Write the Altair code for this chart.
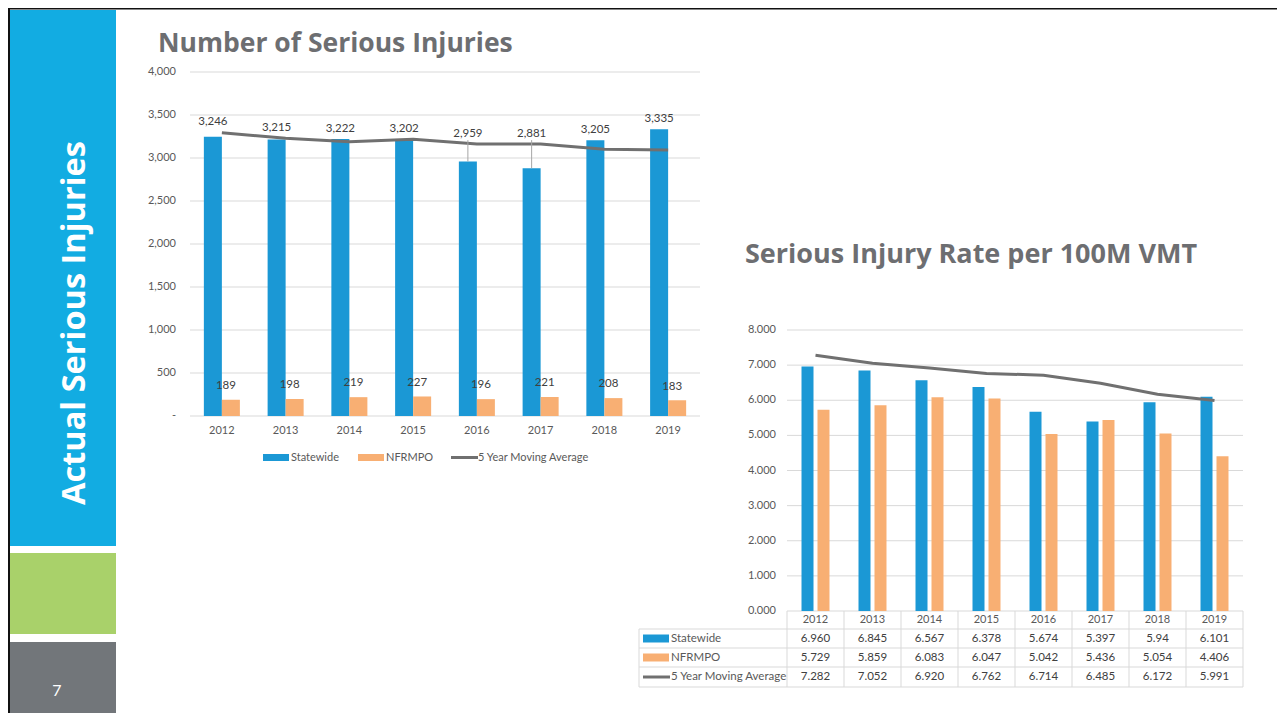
import altair as alt
import pandas as pd

# ---------------- data ----------------
years = ["2012", "2013", "2014", "2015", "2016", "2017", "2018", "2019"]
series_names = ["Statewide", "NFRMPO"]

sw_counts = [3246, 3215, 3222, 3202, 2959, 2881, 3205, 3335]
nf_counts = [189, 198, 219, 227, 196, 221, 208, 183]
avg_counts = [3294, 3229, 3190, 3217, 3163, 3163, 3101, 3093]

sw_rates = ["6.960", "6.845", "6.567", "6.378", "5.674", "5.397", "5.94", "6.101"]
nf_rates = ["5.729", "5.859", "6.083", "6.047", "5.042", "5.436", "5.054", "4.406"]
avg_rates = ["7.282", "7.052", "6.920", "6.762", "6.714", "6.485", "6.172", "5.991"]

left_ticks = [0, 500, 1000, 1500, 2000, 2500, 3000, 3500, 4000]
left_tick_labels = ["-", "500", "1,000", "1,500", "2,000", "2,500", "3,000", "3,500", "4,000"]
right_ticks = [0, 1, 2, 3, 4, 5, 6, 7, 8]
right_tick_labels = ["0.000", "1.000", "2.000", "3.000", "4.000", "5.000", "6.000", "7.000", "8.000"]

# ---------------- style ----------------
FONT = "Lato"
TFONT = "Open Sans"
BLUE = "#1B98D5"
ORANGE = "#F8AF73"
LINE = "#707070"
GRID = "#D9D9D9"
AXIS_TXT = "#595959"
VAL_TXT = "#404040"
TITLE = "#6D6E71"

dummy = pd.DataFrame({"d": [0]})


def rect(x1, x2, y1, y2, color):
    return alt.Chart(dummy).mark_rect(color=color).encode(
        x=alt.value(x1), x2=alt.value(x2), y=alt.value(y1), y2=alt.value(y2))


def hline(x1, x2, y, color=GRID, w=1):
    return alt.Chart(dummy).mark_rule(color=color, strokeWidth=w).encode(
        x=alt.value(x1), x2=alt.value(x2), y=alt.value(y))


def vline(x, y1, y2, color=GRID, w=1):
    return alt.Chart(dummy).mark_rule(color=color, strokeWidth=w).encode(
        x=alt.value(x), y=alt.value(y1), y2=alt.value(y2))


def label(txt, x, y, size=11, color=AXIS_TXT, align="left", bold=False, angle=0,
          baseline="middle", font=FONT):
    kw = dict(text=txt, font=font, fontSize=size, color=color, align=align, baseline=baseline)
    if bold:
        kw["fontWeight"] = "bold"
    if angle:
        kw["angle"] = angle
    return alt.Chart(dummy).mark_text(**kw).encode(x=alt.value(x), y=alt.value(y))


# ---------------- sidebar ----------------
sidebar = [
    rect(0, 2, 0, 705, "#111111"),
    rect(0, 1269, 0, 1.5, "#111111"),
    rect(2, 108, 2, 538, "#12ACE2"),
    rect(2, 108, 545, 626, "#A9D16A"),
    rect(2, 108, 634, 705, "#72767A"),
    label("Actual Serious Injuries", 67, 315, size=32.5, color="white", align="center", bold=True,
          angle=270, font=TFONT),
    label("7", 49, 683, size=16, color="white", align="center"),
]

# ---------------- left chart ----------------
left_long = pd.DataFrame({
    "year": years * 2,
    "series": ["Statewide"] * 8 + ["NFRMPO"] * 8,
    "value": sw_counts + nf_counts,
    "avg": avg_counts + avg_counts,
})
left_ticks_df = pd.DataFrame({"v": left_ticks, "t": left_tick_labels})

LX = alt.Scale(type="band", domain=years, range=[182, 692], paddingInner=0.435, paddingOuter=0.2175)
LY = alt.Scale(domain=[0, 4000], range=[408, 64], zero=True, nice=False)
COLOR = alt.Scale(domain=series_names, range=[BLUE, ORANGE])

lbase = alt.Chart(left_long)
left_layers = [
    label("Number of Serious Injuries", 150, 44, size=26.5, color=TITLE, bold=True,
          baseline="alphabetic", font=TFONT),
    alt.Chart(left_ticks_df).mark_rule(color=GRID).encode(
        y=alt.Y("v:Q", scale=LY, axis=None), x=alt.value(182), x2=alt.value(692)),
    alt.Chart(left_ticks_df).mark_text(font=FONT, fontSize=11, color=AXIS_TXT, align="right", baseline="middle").encode(
        y=alt.Y("v:Q", scale=LY, axis=None), x=alt.value(168), text="t:N"),
    lbase.mark_bar().encode(
        x=alt.X("year:N", scale=LX, axis=None),
        xOffset=alt.XOffset("series:N", scale=alt.Scale(domain=series_names, paddingInner=0, paddingOuter=0)),
        y=alt.Y("value:Q", scale=LY, axis=None),
        y2=alt.datum(0),
        color=alt.Color("series:N", scale=COLOR, legend=None)),
    lbase.transform_filter("datum.series == 'Statewide'").mark_line(color=LINE, strokeWidth=3).encode(
        x=alt.X("year:N", scale=LX, axis=None, bandPosition=0.5),
        y=alt.Y("avg:Q", scale=LY, axis=None)),
    lbase.transform_filter("datum.series == 'Statewide' && datum.avg - datum.value > 150")
    .transform_calculate(top="max(datum.value, datum.avg) + 45")
    .mark_rule(color="#A6A6A6", strokeWidth=1, xOffset=-9).encode(
        x=alt.X("year:N", scale=LX, axis=None, bandPosition=0.5),
        y=alt.Y("value:Q", scale=LY, axis=None),
        y2="top:Q"),
    lbase.transform_filter("datum.series == 'Statewide'")
    .transform_calculate(ly="max(datum.value, datum.avg) + 120")
    .mark_text(font=FONT, fontSize=11.5, color=VAL_TXT, baseline="middle", dx=-9).encode(
        x=alt.X("year:N", scale=LX, axis=None, bandPosition=0.5),
        y=alt.Y("ly:Q", scale=LY, axis=None),
        text=alt.Text("value:Q", format=",")),
    lbase.transform_filter("datum.series == 'NFRMPO'")
    .transform_calculate(ly="datum.value + 160")
    .mark_text(font=FONT, fontSize=11.5, color=VAL_TXT, baseline="middle", dx=4).encode(
        x=alt.X("year:N", scale=LX, axis=None, bandPosition=0.5),
        y=alt.Y("ly:Q", scale=LY, axis=None),
        text=alt.Text("value:Q")),
    lbase.transform_filter("datum.series == 'Statewide'")
    .mark_text(font=FONT, fontSize=11, color=AXIS_TXT, baseline="middle").encode(
        x=alt.X("year:N", scale=LX, axis=None, bandPosition=0.5),
        y=alt.value(423), text="year:N"),
    # legend
    rect(255, 281, 446, 453, BLUE),
    label("Statewide", 283, 449.5),
    rect(350, 376, 446, 453, ORANGE),
    label("NFRMPO", 378, 449.5),
    hline(443, 470, 449.5, LINE, 3),
    label("5 Year Moving Average", 470, 449.5),
]
left = alt.layer(*left_layers)

# ---------------- right chart ----------------
right_long = pd.DataFrame({
    "year": years * 2,
    "series": ["Statewide"] * 8 + ["NFRMPO"] * 8,
    "value": [float(v) for v in sw_rates + nf_rates],
    "txt": sw_rates + nf_rates,
    "avg": [float(v) for v in avg_rates] * 2,
    "avgtxt": avg_rates * 2,
})
right_ticks_df = pd.DataFrame({"v": right_ticks, "t": right_tick_labels})

RX = alt.Scale(type="band", domain=years, range=[779, 1235], paddingInner=0.509, paddingOuter=0.2545)
RY = alt.Scale(domain=[0, 8], range=[603, 322], zero=True, nice=False)

rbase = alt.Chart(right_long)
row_y = {"head": 612, "sw": 630.5, "nf": 649.5, "avg": 669}

right_layers = [
    label("Serious Injury Rate per 100M VMT", 737, 255, size=27, color=TITLE, bold=True,
          baseline="alphabetic", font=TFONT),
    alt.Chart(right_ticks_df).mark_rule(color=GRID).encode(
        y=alt.Y("v:Q", scale=RY, axis=None), x=alt.value(779), x2=alt.value(1235)),
    alt.Chart(right_ticks_df).mark_text(font=FONT, fontSize=11, color=AXIS_TXT, align="right", baseline="middle").encode(
        y=alt.Y("v:Q", scale=RY, axis=None), x=alt.value(768), text="t:N"),
    rbase.mark_bar().encode(
        x=alt.X("year:N", scale=RX, axis=None),
        xOffset=alt.XOffset("series:N", scale=alt.Scale(domain=series_names, paddingInner=0.25, paddingOuter=0)),
        y=alt.Y("value:Q", scale=RY, axis=None),
        y2=alt.datum(0),
        color=alt.Color("series:N", scale=COLOR, legend=None)),
    rbase.transform_filter("datum.series == 'Statewide'").mark_line(color=LINE, strokeWidth=3).encode(
        x=alt.X("year:N", scale=RX, axis=None, bandPosition=0.5),
        y=alt.Y("avg:Q", scale=RY, axis=None)),
]

# data table under the right chart
for yy in [621, 640, 659, 679]:
    right_layers.append(hline(631, 1235, yy))
right_layers.append(vline(631, 621, 679))
for k in range(9):
    right_layers.append(vline(779 + 57 * k, 603, 679))

right_layers += [
    rbase.transform_filter("datum.series == 'Statewide'")
    .mark_text(font=FONT, fontSize=11, color=AXIS_TXT, baseline="middle").encode(
        x=alt.X("year:N", scale=RX, axis=None, bandPosition=0.5), y=alt.value(row_y["head"]), text="year:N"),
    rbase.transform_filter("datum.series == 'Statewide'")
    .mark_text(font=FONT, fontSize=11.5, color=VAL_TXT, baseline="middle").encode(
        x=alt.X("year:N", scale=RX, axis=None, bandPosition=0.5), y=alt.value(row_y["sw"]), text="txt:N"),
    rbase.transform_filter("datum.series == 'NFRMPO'")
    .mark_text(font=FONT, fontSize=11.5, color=VAL_TXT, baseline="middle").encode(
        x=alt.X("year:N", scale=RX, axis=None, bandPosition=0.5), y=alt.value(row_y["nf"]), text="txt:N"),
    rbase.transform_filter("datum.series == 'Statewide'")
    .mark_text(font=FONT, fontSize=11.5, color=VAL_TXT, baseline="middle").encode(
        x=alt.X("year:N", scale=RX, axis=None, bandPosition=0.5), y=alt.value(row_y["avg"]), text="avgtxt:N"),
    rect(635, 661, row_y["sw"] - 4, row_y["sw"] + 4, BLUE),
    label("Statewide", 663, row_y["sw"], size=11.5),
    rect(635, 661, row_y["nf"] - 4, row_y["nf"] + 4, ORANGE),
    label("NFRMPO", 663, row_y["nf"], size=11.5),
    hline(635, 662, row_y["avg"], LINE, 3),
    label("5 Year Moving Average", 663, row_y["avg"], size=11.5),
]
right = alt.layer(*right_layers)

chart = (
    alt.layer(*sidebar, left, right)
    .resolve_scale(x="independent", y="independent", xOffset="independent")
    .properties(width=1269, height=705, padding=0, autosize=alt.AutoSizeParams(type="none"))
    .configure_view(stroke=None)
    .configure(background="white")
)

chart.save("out.html", embed_options={"renderer": "svg", "actions": False})
